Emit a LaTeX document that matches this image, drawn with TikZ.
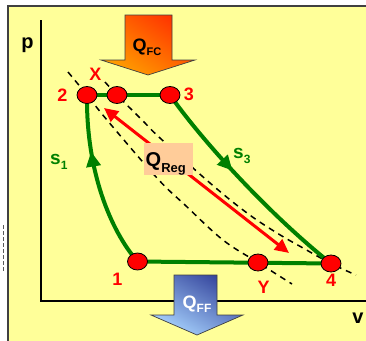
\documentclass[tikz,border=0pt]{standalone}
\usepackage{fontspec}
\setmainfont{Liberation Sans}
\usetikzlibrary{arrows.meta,decorations.markings,shapes.geometric}
\pgfdeclarelayer{back}
\pgfdeclarelayer{mid}
\pgfsetlayers{back,mid,main}
\definecolor{bgyellow}{HTML}{FFFF99}
\definecolor{cgreen}{HTML}{008000}
\definecolor{cred}{HTML}{FF0000}
\definecolor{peach}{HTML}{FFCC99}
\definecolor{framec}{HTML}{404040}
\definecolor{orA}{HTML}{FF3300}
\definecolor{orB}{HTML}{FFA000}
\definecolor{blA}{HTML}{34449C}
\definecolor{blB}{HTML}{A8D4FF}
\newcommand\myfs[1]{\fontsize{#1}{#1}\selectfont}
\begin{document}
\begin{tikzpicture}[x=1pt,y=-1pt,
  pt/.style={ellipse, draw=black, line width=0.8pt, fill=cred, minimum width=20pt, minimum height=17pt, inner sep=0pt},
  lbl/.style={text=cred, font=\bfseries\myfs{18}, inner sep=0pt},
  slbl/.style={text=cgreen, font=\bfseries\myfs{19}, inner sep=0pt, anchor=base west},
  axlbl/.style={text=black, font=\bfseries\myfs{20}, inner sep=0pt},
  qlbl/.style={font=\bfseries\myfs{18}, inner sep=0pt, anchor=base},
  ax/.style={line width=1.5pt, black},
  iso/.style={line width=1.5pt, black, dash pattern=on 6pt off 5pt},
  proc/.style={cgreen, line width=4pt},
  midarrow/.style={postaction={decorate}, decoration={markings, mark=at position #1 with {\arrow{Triangle[length=15pt,width=14pt]}}}},
  regarrow/.style={cred, line width=3pt, {Triangle[length=14pt,width=13pt]}-{Triangle[length=14pt,width=13pt]}},
  blockarrow/.style={draw=framec, line width=0.7pt}
]
\useasboundingbox (0,0) rectangle (366,340);
\clip (0,0) rectangle (366,340);

\begin{pgfonlayer}{back}
\fill[white] (0,0) rectangle (366,340);
\fill[bgyellow] (8,6) rectangle (372,346);
\draw[framec, line width=1.2pt] (8,346) -- (8,6) -- (372,6);
\draw[gray!70!black, line width=1pt, dash pattern=on 4pt off 2pt] (3,225) -- (3,272);
\end{pgfonlayer}

% state points
\node[pt] (n2) at (87,95) {};
\node[pt] (nX) at (117,95) {};
\node[pt] (n3) at (170,95) {};
\node[pt] (n1) at (137.5,261.5) {};
\node[pt] (nY) at (258,262.5) {};
\node[pt] (n4) at (331,263.5) {};

\coordinate (ytop) at (41,20);
\coordinate (orig) at (41,301);
\coordinate (xend) at (372,301);
\coordinate (ra) at (104,108);
\coordinate (rb) at (289,253);

\begin{pgfonlayer}{mid}
\draw[ax] (ytop) -- (orig) -- (xend);
\draw[iso] plot[smooth, tension=0.6] coordinates {(68,72) (87,95) (107,120) (157,178) (185,205) (223,240) (258,262.5) (292,284)};
\draw[iso] plot[smooth, tension=0.6] coordinates {(105,82) (117,95) (143,121) (160,138) (210,183) (247,213) (277,233) (303,248) (331,263.5) (356,275)};
\draw[proc] (n2.center) -- (n3.center);
\draw[proc] (n1.center) -- (n4.center);
\draw[proc, midarrow=0.68] (n1.center) .. controls (110,230) and (86,170) .. (n2.center);
\draw[proc, midarrow=0.42] (n3.center) .. controls (203,142) and (270,215) .. (n4.center);
\draw[regarrow] (ra) -- (rb);
\end{pgfonlayer}

% heat arrows
\path[blockarrow, top color=orA, bottom color=orB, shading angle=-35]
  (125,15) -- (172,15) -- (172,60) -- (195,60) -- (148,75) -- (101,60) -- (125,60) -- cycle;
\path[blockarrow, top color=blA, bottom color=blB, shading angle=-30]
  (174,275) -- (217,275) -- (217,315) -- (243,315) -- (197,335) -- (151,315) -- (174,315) -- cycle;
\node[qlbl] (qfc) at (147,51) {Q\raisebox{-4pt}{\myfs{11}FC}};
\node[qlbl, text=white] (qff) at (197,308) {Q\raisebox{-4pt}{\myfs{12}FF}};

% regenerator label
\node[fill=peach, minimum width=49pt, minimum height=32pt, inner sep=0pt] (qreg) at (168.5,159) {};
\node[font=\bfseries\myfs{20}, inner sep=0pt, anchor=base west] (qregt) at (145.5,166.5) {Q\raisebox{-6pt}{\myfs{13}Reg}};

% labels
\node[lbl] (l2) at (62.5,95) {2};
\node[lbl] (lX) at (95.5,74) {X};
\node[lbl] (l3) at (189,94.5) {3};
\node[lbl] (l1) at (117.5,279.5) {1};
\node[lbl] (lY) at (263.5,287.5) {Y};
\node[lbl] (l4) at (331,280.5) {4};
\node[slbl] (s1) at (50,164) {s\raisebox{-5pt}{\myfs{12}1}};
\node[slbl] (s3) at (233,158) {s\raisebox{-5pt}{\myfs{12}3}};
\node[axlbl] (lp) at (27.5,45) {p};
\node[axlbl] (lv) at (358,318) {v};
\end{tikzpicture}
\end{document}
